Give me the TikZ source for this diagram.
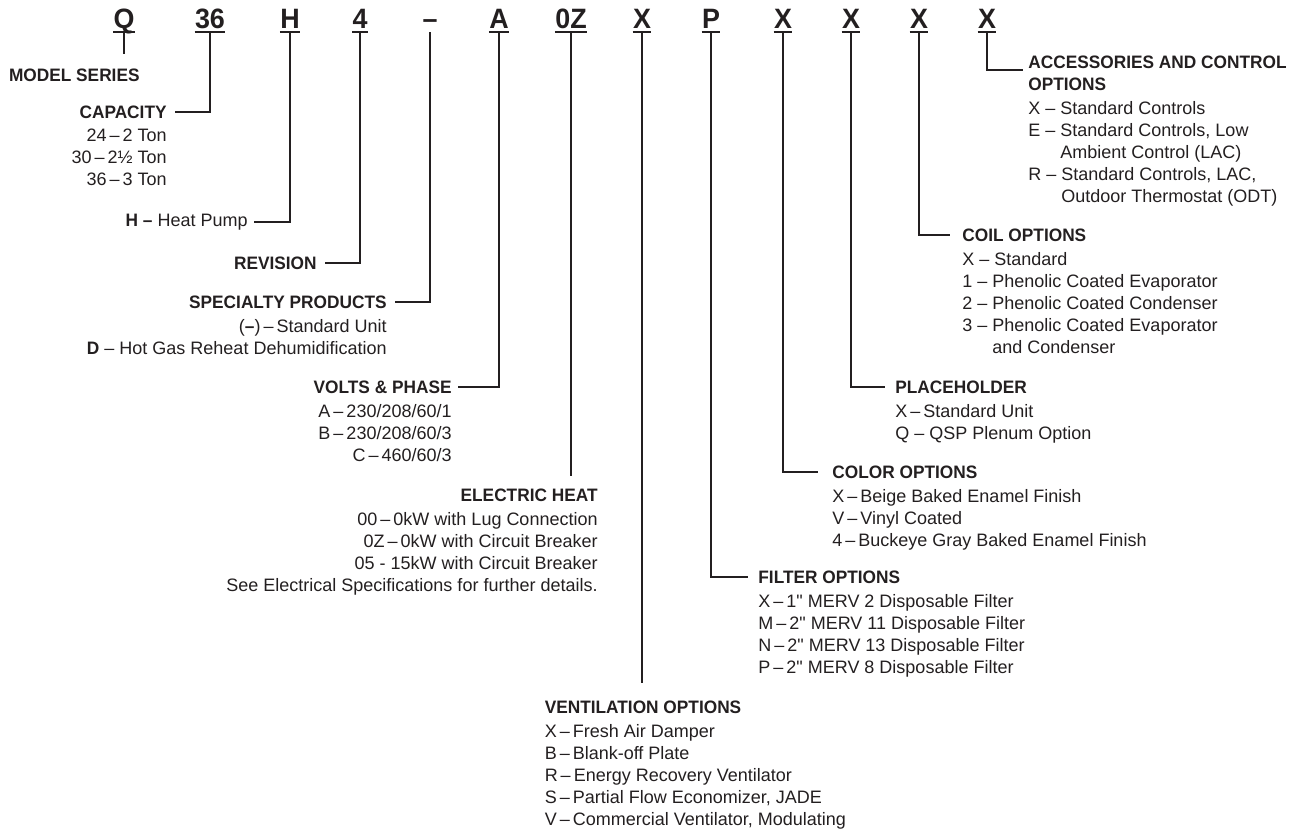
\documentclass[tikz,border=0pt]{standalone}
\usepackage{fontspec}
\newfontfamily\spec{Liberation Sans}[BoldFeatures={FakeStretch=0.96}]
\usetikzlibrary{positioning, calc}
\definecolor{ink}{HTML}{231F20}
\newcommand{\ds}{\,–\,}

\begin{document}
\begin{tikzpicture}[
    x=0.5pt, y=-0.5pt,
    code/.style={font=\spec\fontsize{14}{14}\selectfont\bfseries, inner sep=0pt, text=ink},
    ttl/.style={font=\spec\fontsize{9}{11}\selectfont\bfseries, inner sep=0pt, text=ink},
    items/.style={font=\spec\fontsize{9}{11}\selectfont, inner sep=0pt, text=ink, align=#1},
    items/.default=left,
    uline/.style={draw=ink, line width=0.9pt},
    conn/.style={draw=ink, line width=1.4pt},
]
\useasboundingbox (0,0) rectangle (1290,830);

% Model code
\node[code, anchor=base] (cq)  at (124,28) {Q};
\node[code, anchor=base] (c36) at (210,28) {36};
\node[code, anchor=base] (ch)  at (290,28) {H};
\node[code, anchor=base] (c4)  at (360,28) {4};
\node[code, anchor=base] (cd)  at (430,28) {–};
\node[code, anchor=base] (ca)  at (499,28) {A};
\node[code, anchor=base] (c0z) at (571,28) {0Z};
\node[code, anchor=base] (cvx) at (642,28) {X};
\node[code, anchor=base] (cp)  at (711,28) {P};
\node[code, anchor=base] (ccx) at (783,28) {X};
\node[code, anchor=base] (cpx) at (851,28) {X};
\node[code, anchor=base] (ckx) at (919,28) {X};
\node[code, anchor=base] (cax) at (987,28) {X};

\foreach \n in {cq,c36,ch,c4,ca,c0z,cvx,cp,ccx,cpx,ckx,cax}
  \draw[uline] ($(\n.base west)+(0,4)$) -- ($(\n.base east)+(0,4)$);
\foreach \n in {cq,c36,ch,c4,cd,ca,c0z,cvx,cp,ccx,cpx,ckx,cax}
  \coordinate (u\n) at ($(\n.base)+(0,4)$);

% Left side
\node[ttl, anchor=east] (ms) at (140,75) {MODEL SERIES};
\node[ttl, anchor=east] (cap) at (167,112) {CAPACITY};
\node[items=right, below=5pt of cap.south east, anchor=north east] (capl)
  {24\ds2 Ton\\30\ds2½ Ton\\36\ds3 Ton};
\node[items=right, anchor=east] (hp) at (248,222) {\textbf{H –} Heat Pump};
\node[ttl, anchor=east] (rev) at (317,263) {REVISION};
\node[ttl, anchor=east] (spec) at (387,302) {SPECIALTY PRODUCTS};
\node[items=right, below=5pt of spec.south east, anchor=north east] (specl)
  {(\textbf{–})\ds Standard Unit\\\textbf{D} – Hot Gas Reheat Dehumidification};
\node[ttl, anchor=east] (volt) at (452,387) {VOLTS \& PHASE};
\node[items=right, below=5pt of volt.south east, anchor=north east] (voltl)
  {A\ds230/208/60/1\\B\ds230/208/60/3\\C\ds460/60/3};
\node[ttl, anchor=east] (elec) at (598,495) {ELECTRIC HEAT};
\node[items=right, below=5pt of elec.south east, anchor=north east] (elecl)
  {00\ds0kW with Lug Connection\\0Z\ds0kW with Circuit Breaker\\
   05 - 15kW with Circuit Breaker\\See Electrical Specifications for further details.};
\node[ttl] (vent) at (643,707) {VENTILATION OPTIONS};
\node[items, below=5pt of vent.south west, anchor=north west] (ventl)
  {X\ds Fresh Air Damper\\B\ds Blank-off Plate\\R\ds Energy Recovery Ventilator\\
   S\ds Partial Flow Economizer, JADE\\V\ds Commercial Ventilator, Modulating};

% Right side
\node[ttl, anchor=west] (filt) at (758,577) {FILTER OPTIONS};
\node[items, below=5pt of filt.south west, anchor=north west] (filtl)
  {X\ds1" MERV 2 Disposable Filter\\M\ds2" MERV 11 Disposable Filter\\
   N\ds2" MERV 13 Disposable Filter\\P\ds2" MERV 8 Disposable Filter};
\node[ttl, anchor=west] (col) at (832,472) {COLOR OPTIONS};
\node[items, below=5pt of col.south west, anchor=north west] (coll)
  {X\ds Beige Baked Enamel Finish\\V\ds Vinyl Coated\\4\ds Buckeye Gray Baked Enamel Finish};
\node[ttl, anchor=west] (plh) at (895,387) {PLACEHOLDER};
\node[items, below=5pt of plh.south west, anchor=north west] (plhl)
  {X\ds Standard Unit\\Q – QSP Plenum Option};
\node[ttl, anchor=west] (coil) at (962,235) {COIL OPTIONS};
\node[items, below=5pt of coil.south west, anchor=north west] (coill)
  {X – Standard\\1 – Phenolic Coated Evaporator\\2 – Phenolic Coated Condenser\\
   3 – Phenolic Coated Evaporator\\\hphantom{3 – }and Condenser};
\node[ttl, anchor=north west, align=left] (acc) at (1028,56) {ACCESSORIES AND CONTROL\\OPTIONS};
\node[items, below=5pt of acc.south west, anchor=north west] (accl)
  {X – Standard Controls\\E – Standard Controls, Low\\\hphantom{E – }Ambient Control (LAC)\\
   R – Standard Controls, LAC,\\\hphantom{R – }Outdoor Thermostat (ODT)};

% Connectors
\draw[conn] (ucq) -- ($(ms.north -| ucq)+(0,-14)$);
\draw[conn] (uc36) |- ([xshift=4pt]cap.east);
\draw[conn] (uch) |- ([xshift=3pt]hp.east);
\draw[conn] (uc4) |- ([xshift=4pt]rev.east);
\draw[conn] (ucd) |- ([xshift=4pt]spec.east);
\draw[conn] (uca) |- ([xshift=3pt]volt.east);
\draw[conn] (uc0z) -- ($(elec.north -| uc0z)+(0,-12)$);
\draw[conn] (ucvx) -- ($(vent.north -| ucvx)+(0,-17)$);
\draw[conn] (ucp) |- ([xshift=-5pt]filt.west);
\draw[conn] (uccx) |- ([xshift=-7pt]col.west);
\draw[conn] (ucpx) |- ([xshift=-5pt]plh.west);
\draw[conn] (uckx) |- ([xshift=-6pt]coil.west);
\draw[conn] (ucax) |- ($(acc.north west)+(-5,14)$);
\end{tikzpicture}
\end{document}
